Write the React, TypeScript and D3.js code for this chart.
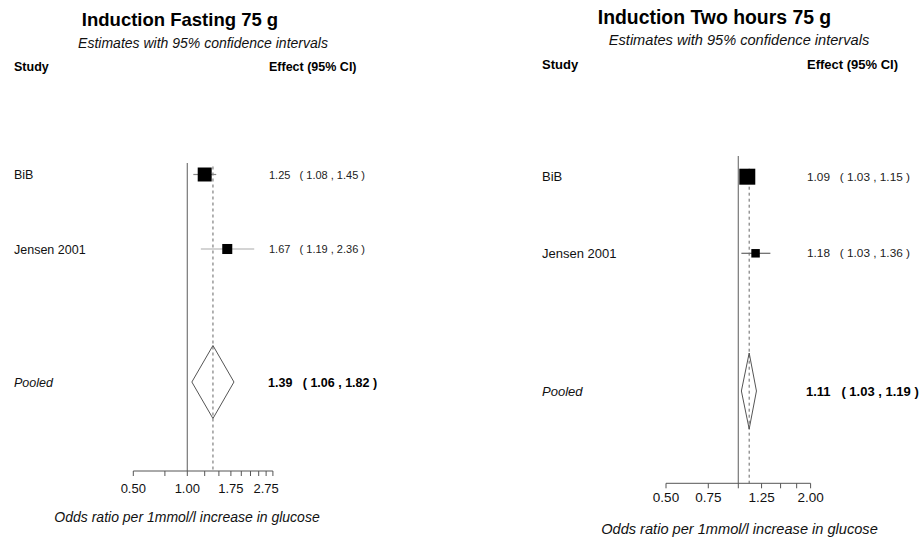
import React from "react";
import * as d3 from "d3";

// Study rows shared by both panels
const studies = ["BiB", "Jensen 2001"];

// Fasting glucose, 75 g OGTT: odds ratios with 95% CI and pooling weights (%)
const fastingEst = [1.25, 1.67];
const fastingLo = [1.08, 1.19];
const fastingHi = [1.45, 2.36];
const fastingWeight = [66, 34];
const fastingPooled = [1.39, 1.06, 1.82];
const fastingTicks = [0.5, 0.75, 1, 1.25, 1.5, 1.75, 2, 2.25, 2.5, 2.75, 3];
const fastingTickLabels = ["0.50", "1.00", "1.75", "2.75"];

// Two-hour glucose, 75 g OGTT
const twoHourEst = [1.09, 1.18];
const twoHourLo = [1.03, 1.03];
const twoHourHi = [1.15, 1.36];
const twoHourWeight = [78, 22];
const twoHourPooled = [1.11, 1.03, 1.19];
const twoHourTicks = [0.5, 0.75, 1, 1.25, 1.5, 1.75, 2];
const twoHourTickLabels = ["0.50", "0.75", "1.25", "2.00"];

const subtitle = "Estimates with 95% confidence intervals";
const xTitle = "Odds ratio per 1mmol/l increase in glucose";
const pooledLabel = "Pooled";

const FONT = "'Liberation Sans', Arial, sans-serif";

type Layout = {
  title: string;
  x0: number; // left edge of study labels
  titleX: number; titleY: number; titleSize: number;
  subX: number; subY: number; subSize: number;
  headY: number; headSize: number; effectX: number;
  rowY: number[]; pooledY: number; diamondHalf: number;
  labelSize: number; effSize: number; pooledSize: number;
  range: [number, number]; domain: [number, number];
  axisY: number; refTop: number; tickLen: number;
  tickLabelY: number; tickSize: number;
  axisTitleX: number; axisTitleY: number;
  boxK: number; ciColor: string[];
};

type Data = {
  est: number[]; lo: number[]; hi: number[]; weight: number[];
  pooled: number[]; ticks: number[]; tickLabels: string[];
};

const fmt = (v: number) => v.toFixed(2);
const effText = (e: number, l: number, h: number) =>
  `${fmt(e)}   ( ${fmt(l)} , ${fmt(h)} )`;

function Panel({ L, D }: { L: Layout; D: Data }) {
  const x = d3.scaleLog().domain(L.domain).range(L.range);
  const box = d3.scaleSqrt().domain([0, 100]).range([0, L.boxK * 10]);
  const [pe, pl, ph] = D.pooled;
  const diamond = d3.line()([
    [x(pl), L.pooledY],
    [x(pe), L.pooledY - L.diamondHalf],
    [x(ph), L.pooledY],
    [x(pe), L.pooledY + L.diamondHalf],
  ]) + "Z";
  const dashTop = L.rowY[0] - 8;
  return (
    <g fontFamily={FONT}>
      <text x={L.titleX} y={L.titleY} textAnchor="middle" fontWeight="bold" fontSize={L.titleSize} fill="#000">
        {L.title}
      </text>
      <text x={L.subX} y={L.subY} textAnchor="middle" fontStyle="italic" fontSize={L.subSize} fill="#111">
        {subtitle}
      </text>
      <text x={L.x0} y={L.headY} fontWeight="bold" fontSize={L.headSize} fill="#000">Study</text>
      <text x={L.effectX} y={L.headY} fontWeight="bold" fontSize={L.headSize} fill="#000">Effect (95% CI)</text>

      {/* reference line at OR = 1 */}
      <line x1={x(1)} x2={x(1)} y1={L.refTop} y2={L.axisY} stroke="#777" strokeWidth={1.2} />
      {/* pooled estimate line */}
      <line x1={x(pe)} x2={x(pe)} y1={dashTop} y2={L.axisY} stroke="#555" strokeWidth={0.9} strokeDasharray="3,3" />

      {studies.map((s, i) => {
        const side = box(D.weight[i]);
        const y = L.rowY[i];
        return (
          <g key={s}>
            <text x={L.x0} y={y + 4.5} fontSize={L.labelSize} fill="#111">{s}</text>
            <line x1={x(D.lo[i])} x2={x(D.hi[i])} y1={y} y2={y} stroke={L.ciColor[i]} strokeWidth={1.2} />
            <rect x={x(D.est[i]) - side / 2} y={y - side / 2} width={side} height={side} fill="#000" />
            <text x={L.effectX} y={y + 4} fontSize={L.effSize} fill="#222" style={{ whiteSpace: "pre" }}>
              {effText(D.est[i], D.lo[i], D.hi[i])}
            </text>
          </g>
        );
      })}

      <text x={L.x0} y={L.pooledY + 4.5} fontSize={L.labelSize} fontStyle="italic" fill="#111">{pooledLabel}</text>
      <path d={diamond} fill="none" stroke="#555" strokeWidth={1} />
      <text x={L.effectX - 1} y={L.pooledY + 4.5} fontSize={L.pooledSize} fontWeight="bold" fill="#000" style={{ whiteSpace: "pre" }}>
        {effText(pe, pl, ph)}
      </text>

      {/* x axis */}
      <line x1={x(L.domain[0])} x2={x(L.domain[1])} y1={L.axisY} y2={L.axisY} stroke="#555" strokeWidth={1} />
      {D.ticks.map((t) => (
        <line key={t} x1={x(t)} x2={x(t)} y1={L.axisY} y2={L.axisY + L.tickLen} stroke="#555" strokeWidth={1} />
      ))}
      {D.tickLabels.map((lab) => (
        <text key={lab} x={x(+lab)} y={L.tickLabelY} textAnchor="middle" fontSize={L.tickSize} fill="#111">
          {lab}
        </text>
      ))}
      <text x={L.axisTitleX} y={L.axisTitleY} textAnchor="middle" fontStyle="italic" fontSize={L.subSize} fill="#111">
        {xTitle}
      </text>
    </g>
  );
}

const leftLayout: Layout = {
  title: "Induction Fasting 75 g",
  x0: 14,
  titleX: 180, titleY: 26, titleSize: 18.5,
  subX: 203, subY: 48, subSize: 14,
  headY: 71, headSize: 12.5, effectX: 269,
  rowY: [174.5, 249], pooledY: 382, diamondHalf: 36.5,
  labelSize: 12.5, effSize: 11, pooledSize: 12.5,
  range: [133.3, 272.9], domain: [0.5, 3],
  axisY: 471, refTop: 163, tickLen: 5,
  tickLabelY: 492.5, tickSize: 13,
  axisTitleX: 187, axisTitleY: 522,
  boxK: 1.72, ciColor: ["#888", "#aaa"],
};

const rightLayout: Layout = {
  title: "Induction Two hours 75 g",
  x0: 542,
  titleX: 714.5, titleY: 24, titleSize: 19.4,
  subX: 739, subY: 45, subSize: 14.6,
  headY: 69, headSize: 13, effectX: 807,
  rowY: [176.7, 253.3], pooledY: 391, diamondHalf: 38,
  labelSize: 13, effSize: 11.8, pooledSize: 13,
  range: [666, 810.6], domain: [0.5, 2],
  axisY: 483.3, refTop: 156, tickLen: 5,
  tickLabelY: 502, tickSize: 13.5,
  axisTitleX: 739.5, axisTitleY: 534,
  boxK: 1.81, ciColor: ["#666", "#666"],
};

export default function App() {
  const fasting: Data = {
    est: fastingEst, lo: fastingLo, hi: fastingHi, weight: fastingWeight,
    pooled: fastingPooled, ticks: fastingTicks, tickLabels: fastingTickLabels,
  };
  const twoHour: Data = {
    est: twoHourEst, lo: twoHourLo, hi: twoHourHi, weight: twoHourWeight,
    pooled: twoHourPooled, ticks: twoHourTicks, tickLabels: twoHourTickLabels,
  };
  return (
    <svg
      width={923}
      height={539}
      style={{ position: "absolute", left: 0, top: 0, background: "#fff" }}
    >
      <rect width={923} height={539} fill="#fff" />
      <Panel L={leftLayout} D={fasting} />
      <Panel L={rightLayout} D={twoHour} />
    </svg>
  );
}
